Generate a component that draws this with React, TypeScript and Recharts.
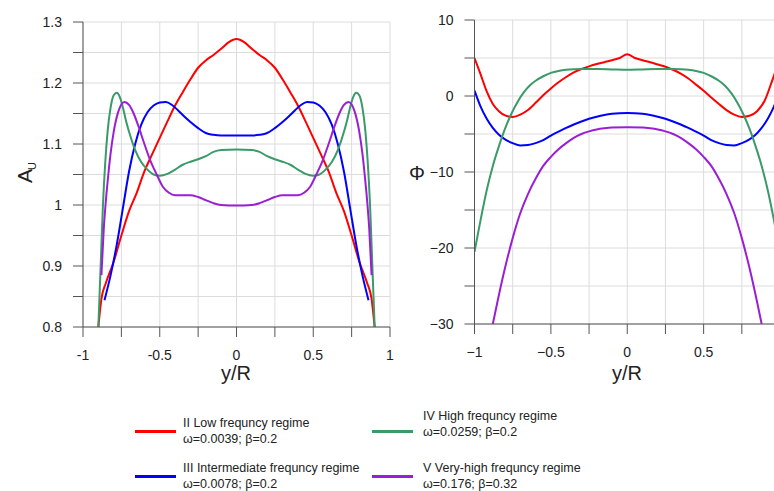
import React from "react";
import { LineChart, Line, XAxis, YAxis, CartesianGrid } from "recharts";

// x positions (y/R) and values, as [x, value] pairs
const auLow: [number, number][] = [
  [-0.9, 0.8], [-0.88, 0.846], [-0.85, 0.873], [-0.8, 0.907], [-0.75, 0.95], [-0.7, 0.99],
  [-0.65, 1.02], [-0.6, 1.055], [-0.55, 1.083], [-0.5, 1.11], [-0.45, 1.137], [-0.4, 1.163],
  [-0.35, 1.185], [-0.3, 1.206], [-0.25, 1.225], [-0.2, 1.237], [-0.15, 1.246], [-0.1, 1.256],
  [-0.05, 1.267], [0, 1.272], [0.05, 1.267], [0.1, 1.256], [0.15, 1.246], [0.2, 1.237],
  [0.25, 1.225], [0.3, 1.206], [0.35, 1.185], [0.4, 1.163], [0.45, 1.137], [0.5, 1.11],
  [0.55, 1.083], [0.6, 1.055], [0.65, 1.02], [0.7, 0.99], [0.75, 0.95], [0.8, 0.907],
  [0.85, 0.873], [0.88, 0.846], [0.9, 0.8],
];
const auMid: [number, number][] = [
  [-0.86, 0.844], [-0.82, 0.885], [-0.78, 0.935], [-0.74, 0.995], [-0.7, 1.055], [-0.66, 1.1],
  [-0.62, 1.132], [-0.58, 1.152], [-0.54, 1.163], [-0.5, 1.168], [-0.46, 1.169], [-0.42, 1.164],
  [-0.38, 1.155], [-0.34, 1.145], [-0.3, 1.136], [-0.25, 1.126], [-0.2, 1.118], [-0.15, 1.115],
  [-0.1, 1.114], [0, 1.114], [0.1, 1.114], [0.15, 1.115], [0.2, 1.118], [0.25, 1.126],
  [0.3, 1.136], [0.34, 1.145], [0.38, 1.155], [0.42, 1.164], [0.46, 1.169], [0.5, 1.168],
  [0.54, 1.163], [0.58, 1.152], [0.62, 1.132], [0.66, 1.1], [0.7, 1.055], [0.74, 0.995],
  [0.78, 0.935], [0.82, 0.885], [0.86, 0.844],
];
const auHigh: [number, number][] = [
  [-0.9, 0.8], [-0.885, 0.9], [-0.87, 1.0], [-0.855, 1.07], [-0.84, 1.12], [-0.82, 1.16],
  [-0.8, 1.18], [-0.78, 1.184], [-0.76, 1.177], [-0.74, 1.16], [-0.72, 1.138], [-0.7, 1.12],
  [-0.66, 1.09], [-0.62, 1.07], [-0.58, 1.058], [-0.54, 1.05], [-0.5, 1.048], [-0.45, 1.051],
  [-0.4, 1.058], [-0.35, 1.066], [-0.3, 1.071], [-0.25, 1.075], [-0.2, 1.08], [-0.15, 1.087],
  [-0.1, 1.09], [0, 1.091], [0.1, 1.09], [0.15, 1.087], [0.2, 1.08], [0.25, 1.075],
  [0.3, 1.071], [0.35, 1.066], [0.4, 1.058], [0.45, 1.051], [0.5, 1.048], [0.54, 1.05],
  [0.58, 1.058], [0.62, 1.07], [0.66, 1.09], [0.7, 1.12], [0.72, 1.138], [0.74, 1.16],
  [0.76, 1.177], [0.78, 1.184], [0.8, 1.18], [0.82, 1.16], [0.84, 1.12], [0.855, 1.07],
  [0.87, 1.0], [0.885, 0.9], [0.9, 0.8],
];
const auVeryHigh: [number, number][] = [
  [-0.88, 0.885], [-0.865, 0.96], [-0.85, 1.01], [-0.835, 1.05], [-0.82, 1.085], [-0.8, 1.12],
  [-0.77, 1.153], [-0.73, 1.169], [-0.7, 1.164], [-0.67, 1.15], [-0.64, 1.13], [-0.6, 1.1],
  [-0.56, 1.072], [-0.52, 1.05], [-0.48, 1.03], [-0.44, 1.02], [-0.4, 1.016], [-0.35, 1.016],
  [-0.3, 1.016], [-0.25, 1.013], [-0.2, 1.008], [-0.15, 1.003], [-0.1, 1.0], [0, 0.999],
  [0.1, 1.0], [0.15, 1.003], [0.2, 1.008], [0.25, 1.013], [0.3, 1.016], [0.35, 1.016],
  [0.4, 1.016], [0.44, 1.02], [0.48, 1.03], [0.52, 1.05], [0.56, 1.072], [0.6, 1.1],
  [0.64, 1.13], [0.67, 1.15], [0.7, 1.164], [0.73, 1.169], [0.77, 1.153], [0.8, 1.12],
  [0.82, 1.085], [0.835, 1.05], [0.85, 1.01], [0.865, 0.96], [0.88, 0.885],
];

const phiLow: [number, number][] = [
  [-1, 5.0], [-0.96, 2.85], [-0.92, 0.6], [-0.88, -1.05], [-0.84, -2.0], [-0.8, -2.55],
  [-0.75, -2.75], [-0.7, -2.45], [-0.65, -1.85], [-0.6, -0.9], [-0.55, 0.1], [-0.5, 1.0],
  [-0.45, 1.8], [-0.4, 2.5], [-0.35, 3.1], [-0.3, 3.55], [-0.25, 3.9], [-0.2, 4.2],
  [-0.15, 4.45], [-0.1, 4.7], [-0.05, 5.0], [0, 5.5], [0.05, 5.0], [0.1, 4.7], [0.15, 4.45],
  [0.2, 4.15], [0.25, 3.85], [0.3, 3.45], [0.35, 2.95], [0.4, 2.3], [0.45, 1.5], [0.5, 0.7],
  [0.55, -0.2], [0.6, -1.05], [0.65, -1.85], [0.7, -2.45], [0.75, -2.75], [0.8, -2.6],
  [0.85, -2.0], [0.9, -0.6], [0.95, 2.1], [1, 5.0],
];
const phiMid: [number, number][] = [
  [-1, 0.7], [-0.96, -1.4], [-0.92, -3.0], [-0.88, -4.2], [-0.84, -5.1], [-0.8, -5.7],
  [-0.75, -6.2], [-0.7, -6.5], [-0.65, -6.45], [-0.6, -6.2], [-0.55, -5.8], [-0.5, -5.2],
  [-0.45, -4.7], [-0.4, -4.2], [-0.35, -3.75], [-0.3, -3.35], [-0.25, -3.0], [-0.2, -2.72],
  [-0.15, -2.5], [-0.1, -2.35], [-0.05, -2.27], [0, -2.24], [0.05, -2.27], [0.1, -2.35],
  [0.15, -2.5], [0.2, -2.72], [0.25, -3.0], [0.3, -3.35], [0.35, -3.75], [0.4, -4.2],
  [0.45, -4.7], [0.5, -5.2], [0.55, -5.8], [0.6, -6.2], [0.65, -6.45], [0.7, -6.5],
  [0.75, -6.2], [0.8, -5.7], [0.84, -5.1], [0.88, -4.2], [0.92, -3.0], [0.96, -1.4], [1, 0.7],
];
const phiHigh: [number, number][] = [
  [-1, -20.5], [-0.96, -16.3], [-0.92, -12.4], [-0.88, -9.2], [-0.84, -6.6], [-0.8, -4.3],
  [-0.76, -2.4], [-0.72, -0.85], [-0.68, 0.4], [-0.64, 1.35], [-0.6, 2.0], [-0.55, 2.6],
  [-0.5, 3.05], [-0.45, 3.3], [-0.4, 3.45], [-0.35, 3.52], [-0.3, 3.55], [-0.2, 3.55],
  [-0.1, 3.5], [0, 3.45], [0.1, 3.5], [0.2, 3.55], [0.3, 3.55], [0.35, 3.52], [0.4, 3.45],
  [0.45, 3.3], [0.5, 3.05], [0.55, 2.6], [0.6, 2.0], [0.64, 1.35], [0.68, 0.4], [0.72, -0.85],
  [0.76, -2.4], [0.8, -4.3], [0.84, -6.6], [0.88, -9.2], [0.92, -12.4], [0.96, -16.3], [1, -20.5],
];
const phiVeryHigh: [number, number][] = [
  [-0.88, -30], [-0.85, -27.1], [-0.8, -22.6], [-0.75, -18.7], [-0.7, -15.4], [-0.65, -12.9],
  [-0.6, -10.9], [-0.55, -9.2], [-0.5, -8.0], [-0.45, -7.0], [-0.4, -6.2], [-0.35, -5.5],
  [-0.3, -5.0], [-0.25, -4.65], [-0.2, -4.4], [-0.15, -4.25], [-0.1, -4.15], [0, -4.1],
  [0.1, -4.15], [0.15, -4.25], [0.2, -4.4], [0.25, -4.65], [0.3, -5.0], [0.35, -5.5],
  [0.4, -6.2], [0.45, -7.0], [0.5, -8.0], [0.55, -9.2], [0.6, -10.9], [0.65, -12.9],
  [0.7, -15.4], [0.75, -18.7], [0.8, -22.6], [0.85, -27.1], [0.88, -30],
];

const xTicks = [-1, -0.75, -0.5, -0.25, 0, 0.25, 0.5, 0.75, 1];
const auTicks = [0.8, 0.85, 0.9, 0.95, 1, 1.05, 1.1, 1.15, 1.2, 1.25, 1.3];
const phiTicks = [-30, -25, -20, -15, -10, -5, 0, 5, 10];

const regimeNames = [
  "II Low frequncy regime",
  "III Intermediate frequncy regime",
  "IV High frequncy regime",
  "V Very-high frequncy regime",
];
const regimeParams = [
  "ω=0.0039; β=0.2",
  "ω=0.0078; β=0.2",
  "ω=0.0259; β=0.2",
  "ω=0.176; β=0.32",
];
const colors = ["#ff0000", "#0000ff", "#3a9a68", "#9a1fd4"];

const FONT = '"Liberation Sans", Arial, sans-serif';
const AXIS = "#555";
const GRID = "#dcdcdc";

const pts = (arr: [number, number][]) => arr.map(([x, y]) => ({ x, y }));
const minus = (s: string) => s.replace("-", "\u2212");
const near = (v: number, step: number) => Math.abs(v / step - Math.round(v / step)) < 1e-6;

const fmtLeftX = (v: number) => (near(v, 0.5) ? String(v) : "");
// the right panel is cut at the page edge, so its "1" is not visible
const fmtRightX = (v: number) => (near(v, 0.5) && v < 1 ? minus(String(v)) : "");
const fmtAu = (v: number) => (near(v, 0.1) ? String(Math.round(v * 10) / 10) : "");
const fmtPhi = (v: number) => (near(v, 10) ? minus(String(v)) : "");

const tickStyle = { fill: "#222", fontSize: 14, fontFamily: FONT };

const series = (sets: [number, number][][]) =>
  sets.map((s, i) => (
    <Line
      key={i}
      data={pts(s)}
      dataKey="y"
      type="monotone"
      stroke={colors[i]}
      strokeWidth={2}
      dot={false}
      isAnimationActive={false}
    />
  ));

// legend placement in page pixels
const legendPos = [
  { lx: 135, ly: 431, tx: 183, ty: 415 },
  { lx: 135, ly: 476, tx: 183, ty: 460 },
  { lx: 372, ly: 431, tx: 423, ty: 408 },
  { lx: 372, ly: 476, tx: 423, ty: 460 },
];

export default function App() {
  return (
    <div
      style={{
        position: "absolute",
        left: 0,
        top: 0,
        width: 774,
        height: 491,
        overflow: "hidden",
        background: "#fff",
        fontFamily: FONT,
        color: "#222",
      }}
    >
      <div style={{ position: "absolute", left: 0, top: 0 }}>
        <LineChart width={400} height={400} margin={{ top: 22, right: 10, bottom: 0, left: 0 }}>
          <CartesianGrid stroke={GRID} />
          <XAxis
            type="number"
            dataKey="x"
            domain={[-1, 1]}
            ticks={xTicks}
            tickFormatter={fmtLeftX}
            height={73}
            tickSize={10}
            tickMargin={13}
            stroke={AXIS}
            tick={tickStyle}
            interval={0}
            allowDataOverflow
          />
          <YAxis
            type="number"
            domain={[0.8, 1.3]}
            ticks={auTicks}
            tickFormatter={fmtAu}
            width={83}
            tickSize={10}
            tickMargin={11}
            stroke={AXIS}
            tick={tickStyle}
            interval={0}
            allowDataOverflow
          />
          {series([auLow, auMid, auHigh, auVeryHigh])}
        </LineChart>
      </div>

      <div style={{ position: "absolute", left: 400, top: 0 }}>
        <LineChart width={400} height={400} margin={{ top: 20, right: 20, bottom: 0, left: 0 }}>
          <CartesianGrid stroke={GRID} />
          <XAxis
            type="number"
            dataKey="x"
            domain={[-1, 1]}
            ticks={xTicks}
            tickFormatter={fmtRightX}
            height={76}
            tickSize={10}
            tickMargin={13}
            stroke={AXIS}
            tick={tickStyle}
            interval={0}
            allowDataOverflow
          />
          <YAxis
            type="number"
            domain={[-30, 10]}
            ticks={phiTicks}
            tickFormatter={fmtPhi}
            width={74.5}
            tickSize={10}
            tickMargin={11}
            stroke={AXIS}
            tick={tickStyle}
            interval={0}
            allowDataOverflow
          />
          {series([phiLow, phiMid, phiHigh, phiVeryHigh])}
        </LineChart>
      </div>

      {/* axis titles */}
      <svg width={774} height={491} style={{ position: "absolute", left: 0, top: 0, pointerEvents: "none" }}>
        <text
          x={24.5}
          y={176}
          transform="rotate(-90 24.5 176)"
          textAnchor="middle"
          dominantBaseline="central"
          fontSize={21}
          fontFamily={FONT}
          fill="#222"
        >
          A
        </text>
        <text
          x={31.5}
          y={166}
          transform="rotate(-90 31.5 166)"
          textAnchor="middle"
          dominantBaseline="central"
          fontSize={11}
          fontFamily={FONT}
          fill="#222"
        >
          U
        </text>
      </svg>
      <div style={{ position: "absolute", left: 406, top: 160, width: 22, textAlign: "center", fontSize: 20, lineHeight: "26px" }}>
        Φ
      </div>
      <div style={{ position: "absolute", left: 186, top: 361, width: 100, textAlign: "center", fontSize: 20, lineHeight: "24px" }}>
        y/R
      </div>
      <div style={{ position: "absolute", left: 577, top: 361, width: 100, textAlign: "center", fontSize: 20, lineHeight: "24px" }}>
        y/R
      </div>

      {/* legend */}
      {legendPos.map((p, i) => (
        <React.Fragment key={i}>
          <div
            style={{
              position: "absolute",
              left: p.lx,
              top: p.ly - 1,
              width: 41,
              height: 2.5,
              background: colors[i],
            }}
          />
          <div style={{ position: "absolute", left: p.tx, top: p.ty, fontSize: 12.5, lineHeight: "16px", whiteSpace: "nowrap" }}>
            <div>{regimeNames[i]}</div>
            <div>{regimeParams[i]}</div>
          </div>
        </React.Fragment>
      ))}
    </div>
  );
}
